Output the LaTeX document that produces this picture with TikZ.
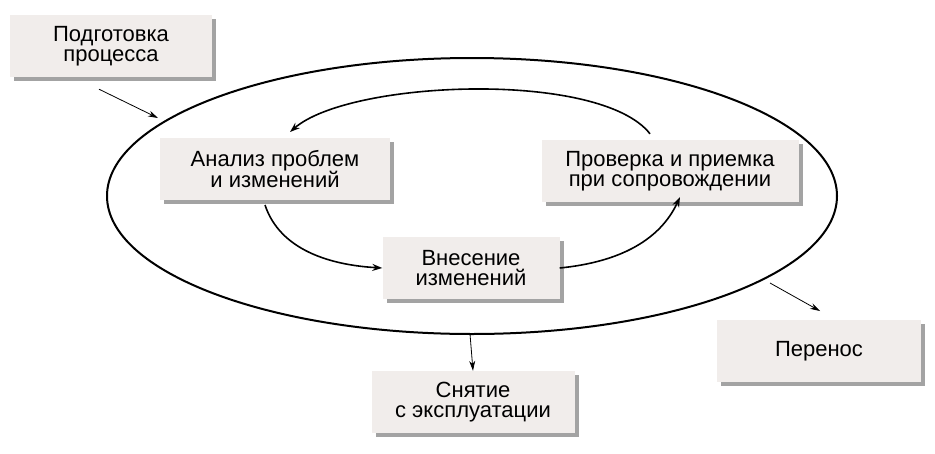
\documentclass[tikz,border=0pt]{standalone}
\usepackage{fontspec}
\setmainfont{Liberation Sans}
\usetikzlibrary{shadows,arrows.meta}
\begin{document}
\begin{tikzpicture}[x=1pt,y=-1pt,
  box/.style={draw=none,fill=boxfill,minimum width=#1,minimum height=62,align=center,
    font=\fontsize{22}{20}\selectfont,
    drop shadow={shadow xshift=4pt,shadow yshift=-4pt,fill=black!45,opacity=0.8}},
  arr/.style={-{Stealth[length=10pt,width=7pt]},line width=1.6pt},
  thin/.style={-{Stealth[length=10pt,width=6pt]},line width=0.8pt}]
\definecolor{boxfill}{HTML}{F1EDEB}
\useasboundingbox (0,0) rectangle (935,453);
\node[box=202] (prep) at (111,46) {Подготовка\\процесса};
\node[box=230] (anal) at (275,169) {Анализ проблем\\и изменений};
\node[box=257] (prov) at (670,171) {Проверка и приемка\\при сопровождении};
\node[box=177] (vnes) at (471,268) {Внесение\\изменений};
\node[box=204] (per) at (819,351) {Перенос};
\node[box=203] (snt) at (473,402) {Снятие\\с эксплуатации};
\draw[line width=2pt] (472,196) ellipse [x radius=365, y radius=138];
\coordinate (e1) at (158,118);
\coordinate (e2) at (470,334);
\coordinate (e3) at (770,283);
\coordinate (p3) at (820,311);
\draw[thin] (prep.south) ++(-12,12) -- (e1);
\draw[thin] (e2) -- (snt.north);
\draw[thin] (e3) -- (p3);
\draw[arr] (prov.north) ++(-20,-6) .. controls (600,70) and (350,80) .. (290,132);
\draw[arr] (265,205) .. controls (280,250) and (330,265) .. (vnes.west);
\draw[arr] (vnes.east) .. controls (620,262) and (660,240) .. (680,197);
\end{tikzpicture}
\end{document}
